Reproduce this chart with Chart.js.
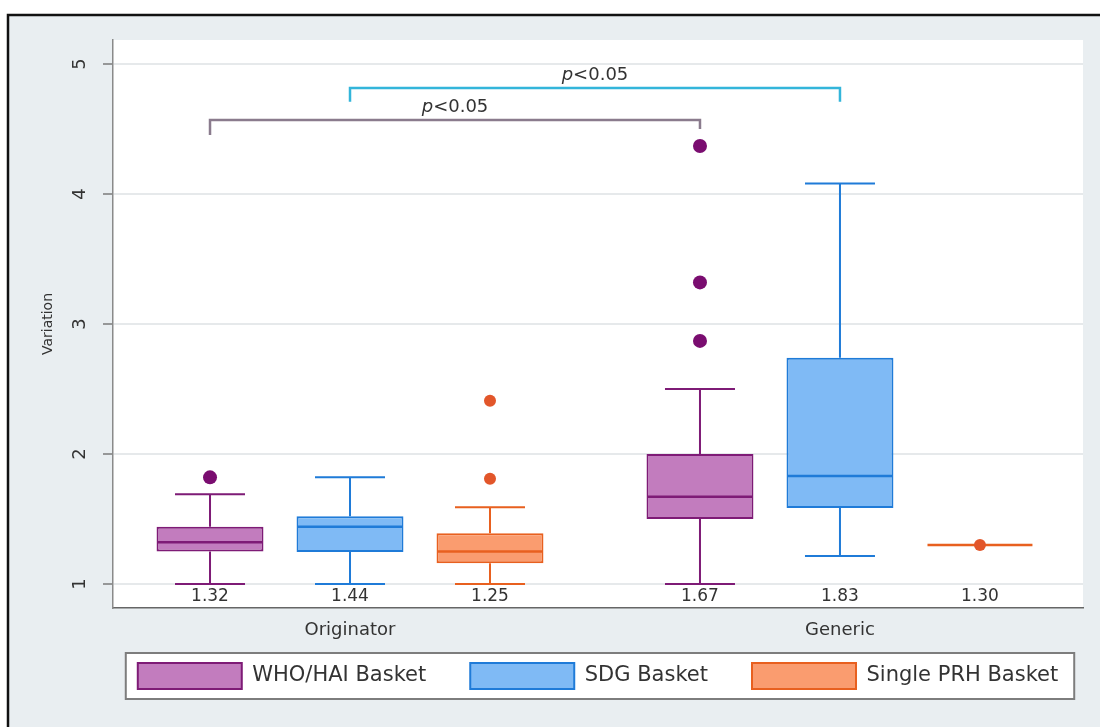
<!DOCTYPE html>
<html>
<head>
<meta charset="utf-8">
<script src="https://cdn.jsdelivr.net/npm/chart.js@4.4.1/dist/chart.umd.min.js"></script>
<style>
  html, body { margin: 0; padding: 0; background: #ffffff; }
  #wrap { width: 1100px; height: 727px; position: relative; }
  canvas { display: block; }
</style>
</head>
<body>
<div id="wrap"><canvas id="c" width="1100" height="727"></canvas></div>
<script>
// ---- data -------------------------------------------------------------
const groups = ['Originator', 'Generic'];
const baskets = ['WHO/HAI Basket', 'SDG Basket', 'Single PRH Basket'];
// slot of each box along the x axis, per basket: [Originator, Generic]
const slots = [[0, 3.5], [1, 4.5], [2, 5.5]];
// five-number summaries per basket: [Originator, Generic]
const lowerWhisker = [[1.00, 1.00], [1.00, 1.215], [1.00, 1.30]];
const q1 = [[1.25, 1.50], [1.245, 1.585], [1.16, 1.30]];
const median = [[1.32, 1.67], [1.44, 1.83], [1.25, 1.30]];
const q3 = [[1.44, 2.00], [1.52, 2.74], [1.39, 1.30]];
const upperWhisker = [[1.69, 2.50], [1.82, 4.08], [1.59, 1.30]];
const outliers = [
  [[1.82], [2.87, 3.32, 4.37]],
  [[], []],
  [[1.81, 2.41], [1.30]]
];
const yTicks = [1, 2, 3, 4, 5];
// significance brackets: basket compared across groups, bracket level and drop ends
const comparedBasket = [0, 1];
const bracketLevel = [4.57, 4.815];
const bracketDrop = [[4.455, 4.50], [4.71, 4.71]];
const bracketText = ['p<0.05', 'p<0.05'];

// ---- styles -----------------------------------------------------------
const fills = ['#c27cbe', '#7fbaf5', '#fa9c6f'];
const edges = ['#7e1b76', '#1f7bd8', '#e8601f'];
const dotColors = ['#7a0d70', '#1f7bd8', '#e2562a'];
const dotRadius = [7, 6, 6];
const bracketColors = ['#8a7b8d', '#33b5da'];
const FONT = 'DejaVu Sans';
const TEXT = '#333333';

Chart.defaults.font.family = FONT;

const groupCenter = gi => slots.reduce((s, row) => s + row[gi], 0) / slots.length;

const boxDatasets = baskets.map((name, b) => ({
  type: 'bar',
  label: name,
  order: 2,
  data: groups.map((g, gi) => ({ x: slots[b][gi], y: [q1[b][gi], q3[b][gi]] })),
  backgroundColor: fills[b],
  borderColor: edges[b],
  borderWidth: 2,
  borderSkipped: false,
  grouped: false,
  categoryPercentage: 1,
  barPercentage: 0.764
}));

const outlierDatasets = baskets.map((name, b) => ({
  type: 'scatter',
  label: name + ' outliers',
  order: 1,
  data: groups.flatMap((g, gi) => outliers[b][gi].map(v => ({ x: slots[b][gi], y: v }))),
  pointRadius: dotRadius[b],
  pointHoverRadius: dotRadius[b],
  pointBackgroundColor: dotColors[b],
  pointBorderWidth: 0,
  showLine: false
}));

// centre the legend row under the plot area rather than the whole canvas
const legendUnderPlot = {
  id: 'legendUnderPlot',
  afterLayout(chart) {
    const lg = chart.legend, a = chart.chartArea;
    if (!lg) return;
    const dx = (a.left + a.right) / 2 - (lg.left + lg.right) / 2;
    lg.left += dx;
    lg.right += dx;
  }
};

// page background, frame, white plot area and the legend frame
const backdrop = {
  id: 'backdrop',
  beforeDraw(chart) {
    const { ctx, chartArea: a } = chart;
    ctx.save();
    ctx.fillStyle = '#e9eef1';
    ctx.fillRect(8, 15, chart.width - 8, chart.height - 15);
    ctx.fillStyle = '#ffffff';
    ctx.fillRect(a.left, a.top, a.right - a.left, a.bottom - a.top);
    ctx.strokeStyle = '#111111';
    ctx.lineWidth = 2.5;
    ctx.beginPath();
    ctx.moveTo(8, chart.height + 2);
    ctx.lineTo(8, 15);
    ctx.lineTo(chart.width + 2, 15);
    ctx.stroke();

    const boxes = chart.legend && chart.legend.legendHitBoxes;
    if (boxes && boxes.length) {
      const first = boxes[0], last = boxes[boxes.length - 1];
      const l = first.left - 12, r = last.left + last.width + 16;
      const t = first.top - 10, btm = first.top + first.height + 10;
      ctx.fillStyle = '#ffffff';
      ctx.fillRect(l, t, r - l, btm - t);
      ctx.strokeStyle = '#7d7d7d';
      ctx.lineWidth = 2;
      ctx.strokeRect(l, t, r - l, btm - t);
    }
    ctx.restore();
  }
};

// whiskers, caps and median lines on each box
const whiskers = {
  id: 'whiskers',
  afterDatasetDraw(chart, args) {
    const b = args.index;
    if (b >= baskets.length) return;
    const { ctx } = chart;
    const xs = chart.scales.x, ys = chart.scales.y;
    const meta = args.meta;
    ctx.save();
    ctx.strokeStyle = edges[b];
    ctx.lineCap = 'butt';
    meta.data.forEach((el, gi) => {
      const cx = el.x;
      const half = el.width / 2;
      const capHalf = xs.getPixelForValue(slots[b][gi] + 0.25) - cx;
      const yHi = ys.getPixelForValue(upperWhisker[b][gi]);
      const yQ3 = ys.getPixelForValue(q3[b][gi]);
      const yQ1 = ys.getPixelForValue(q1[b][gi]);
      const yLo = ys.getPixelForValue(lowerWhisker[b][gi]);
      const yMed = ys.getPixelForValue(median[b][gi]);
      ctx.lineWidth = 2;
      ctx.beginPath();
      if (yHi < yQ3) {
        ctx.moveTo(cx, yQ3); ctx.lineTo(cx, yHi);
        ctx.moveTo(cx - capHalf, yHi); ctx.lineTo(cx + capHalf, yHi);
      }
      if (yLo > yQ1) {
        ctx.moveTo(cx, yQ1); ctx.lineTo(cx, yLo);
        ctx.moveTo(cx - capHalf, yLo); ctx.lineTo(cx + capHalf, yLo);
      }
      ctx.stroke();
      ctx.lineWidth = 2.5;
      ctx.beginPath();
      ctx.moveTo(cx - half + 1, yMed);
      ctx.lineTo(cx + half - 1, yMed);
      ctx.stroke();
    });
    ctx.restore();
  }
};

// median values, group names under the axis and the significance brackets
const annotations = {
  id: 'annotations',
  afterDatasetsDraw(chart) {
    const { ctx } = chart;
    const xs = chart.scales.x, ys = chart.scales.y;
    ctx.save();
    ctx.fillStyle = TEXT;
    ctx.font = `17px "${FONT}"`;
    ctx.textAlign = 'center';
    ctx.textBaseline = 'middle';
    baskets.forEach((name, b) => {
      chart.getDatasetMeta(b).data.forEach((el, gi) => {
        ctx.fillText(median[b][gi].toFixed(2), el.x, ys.bottom - 11);
      });
    });

    ctx.font = `18px "${FONT}"`;
    xs.ticks.forEach((t, gi) => {
      ctx.fillText(groups[gi], xs.getPixelForValue(t.value), ys.bottom + 22);
    });

    comparedBasket.forEach((b, k) => {
      const x0 = xs.getPixelForValue(slots[b][0]);
      const x1 = xs.getPixelForValue(slots[b][1]);
      const yL = ys.getPixelForValue(bracketLevel[k]);
      const yD0 = ys.getPixelForValue(bracketDrop[k][0]);
      const yD1 = ys.getPixelForValue(bracketDrop[k][1]);
      ctx.strokeStyle = bracketColors[k];
      ctx.lineWidth = 2.5;
      ctx.beginPath();
      ctx.moveTo(x0, yD0); ctx.lineTo(x0, yL); ctx.lineTo(x1, yL); ctx.lineTo(x1, yD1);
      ctx.stroke();

      const txt = bracketText[k];
      const head = txt.charAt(0), rest = txt.slice(1);
      ctx.textAlign = 'left';
      ctx.textBaseline = 'alphabetic';
      ctx.font = `italic 18px "${FONT}"`;
      const wHead = ctx.measureText(head).width;
      ctx.font = `18px "${FONT}"`;
      const wRest = ctx.measureText(rest).width;
      const start = (x0 + x1) / 2 - (wHead + wRest) / 2;
      const base = yL - 8;
      ctx.fillStyle = TEXT;
      ctx.font = `italic 18px "${FONT}"`;
      ctx.fillText(head, start, base);
      ctx.font = `18px "${FONT}"`;
      ctx.fillText(rest, start + wHead, base);
    });
    ctx.restore();
  }
};

new Chart(document.getElementById('c'), {
  type: 'bar',
  data: { datasets: [...boxDatasets, ...outlierDatasets] },
  plugins: [legendUnderPlot, backdrop, whiskers, annotations],
  options: {
    responsive: false,
    maintainAspectRatio: false,
    animation: false,
    events: [],
    layout: { padding: { top: 40, right: 17, left: 0, bottom: 28 } },
    plugins: {
      tooltip: { enabled: false },
      legend: {
        position: 'bottom',
        fullSize: true,
        labels: {
          filter: item => item.datasetIndex < baskets.length,
          boxWidth: 104,
          boxHeight: 26,
          padding: 44,
          color: TEXT,
          font: { family: FONT, size: 21 }
        }
      }
    },
    scales: {
      x: {
        type: 'linear',
        min: -0.693,
        max: 6.236,
        offset: false,
        // one tick per group, at the middle of its three boxes
        afterBuildTicks: s => { s.ticks = groups.map((g, gi) => ({ value: groupCenter(gi) })); },
        afterFit: s => { s.height = 11; },
        ticks: { display: false },
        grid: { display: false, drawTicks: false, offset: false },
        border: { display: true, color: '#666666', width: 1.5 }
      },
      y: {
        min: 0.815,
        max: 5.185,
        afterBuildTicks: s => { s.ticks = yTicks.map(v => ({ value: v })); },
        afterFit: s => { s.width = 113; },
        ticks: {
          minRotation: 90,
          maxRotation: 90,
          crossAlign: 'center',
          padding: 17,
          color: TEXT,
          font: { family: FONT, size: 18 }
        },
        grid: { color: '#e6e9eb', lineWidth: 2, tickLength: 10, tickColor: '#7a7a7a', tickWidth: 1.5 },
        border: { display: true, color: '#8a8a8a', width: 1.5 },
        title: {
          display: true,
          text: 'Variation',
          color: TEXT,
          font: { family: FONT, size: 14 },
          padding: { top: 40, bottom: 0 }
        }
      }
    }
  }
});
</script>
</body>
</html>
